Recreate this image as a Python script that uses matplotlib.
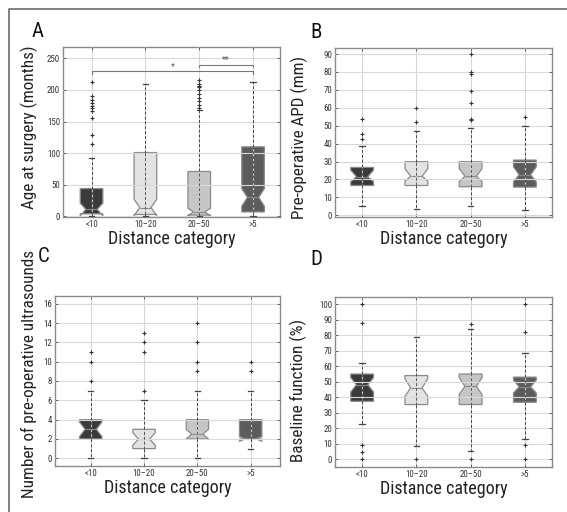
import matplotlib
matplotlib.use("Agg")
import matplotlib.pyplot as plt
from matplotlib.lines import Line2D

plt.rcParams['font.family'] = ['Roboto Condensed', 'Archivo Narrow', 'DejaVu Sans']

W, H = 567, 512
categories = ["<10", "10\u201320", "20\u201350", ">5"]
xlabel = "Distance category"

# ---- Panel A: Age at surgery (months)
a_med = [11, 14, 7, 30]
a_q1 = [4, 3, 2, 7]
a_q3 = [44, 101, 71, 110]
a_cilo = [1, 1, 1, 16]
a_cihi = [21, 27, 13, 44]
a_whislo = [0, 0, 0, 0]
a_whishi = [92, 210, 168, 213]
a_fliers = [[115, 129, 155, 167, 171, 175, 179, 184, 190, 213], [],
            [172, 177, 182, 188, 193, 200, 205, 207, 210, 215], []]

# ---- Panel B: Pre-operative APD (mm)
b_med = [21.5, 21.8, 21.8, 22.6]
b_q1 = [16.6, 16.6, 15.9, 15.7]
b_q3 = [26.7, 29.9, 29.9, 30.8]
b_cilo = [18.7, 19.0, 18.7, 18.7]
b_cihi = [25.2, 26.0, 26.0, 27.0]
b_whislo = [5.2, 3.2, 5.2, 2.8]
b_whishi = [38.8, 47, 48.9, 49.9]
b_fliers = [[42.6, 45.2, 53.8], [52, 59.7],
            [53.2, 53.8, 62.9, 69.6, 79, 80.1, 90], [54.7]]

# ---- Panel C: Number of pre-operative ultrasounds
c_med = [3, 2, 2.5, 2]
c_q1 = [2, 1, 2, 2]
c_q3 = [4, 3, 4, 4]
c_cilo = [2.25, 1.35, 2.0, 1.75]
c_cihi = [3.75, 2.65, 3.0, 2.25]
c_whislo = [0, 0, 0, 1]
c_whishi = [7, 6, 7, 7]
c_fliers = [[8, 10, 11], [7, 11, 12, 13], [9, 10, 12, 14], [9, 10]]

# ---- Panel D: Baseline function (%)
d_med = [48, 46, 47, 46.7]
d_q1 = [37.4, 35.3, 35.3, 36.8]
d_q3 = [55, 54, 55, 53]
d_cilo = [43.4, 40.6, 41.9, 42.8]
d_cihi = [52.7, 52, 52.7, 51]
d_whislo = [23, 8.4, 5.2, 13.3]
d_whishi = [62.4, 79, 84, 68.4]
d_fliers = [[0, 5, 9, 88, 100], [0], [0, 87.3], [0, 9, 82, 100]]

# significance brackets in panel A (from group, to group, height, label)
sig_from = [1, 3]
sig_to = [4, 4]
sig_y = [230, 240]
sig_text = ["*", "**"]

fill_colors = ['#3a3a3a', '#e3e3e3', '#c6c6c6', '#5c5c5c']
edge_color = '#8a8a8a'

fig = plt.figure(figsize=(W / 100, H / 100), dpi=100)
renderer = fig.canvas.get_renderer()


def fit_size(s, target_px, base=10):
    t = fig.text(0, 0, s, fontsize=base)
    w = t.get_window_extent(renderer).width
    t.remove()
    return base * target_px / w


LABEL_FS = fit_size(xlabel, 127)
YLABEL_FS = LABEL_FS * 0.95
TICK_FS = fit_size("250", 13.0)


def px_axes(l, t, r, b):
    return [l / W, 1 - b / H, (r - l) / W, (b - t) / H]


def draw_panel(rect, med, q1, q3, cilo, cihi, whislo, whishi, fliers,
               ylim, yticks, xlim, ylabel, label_xy):
    ax = fig.add_axes(px_axes(*rect))
    pos = list(range(1, len(categories) + 1))
    stats = []
    for i in range(len(categories)):
        stats.append(dict(med=med[i], q1=q1[i], q3=q3[i], cilo=cilo[i],
                          cihi=cihi[i], whislo=whislo[i], whishi=whishi[i],
                          fliers=fliers[i]))
    res = ax.bxp(stats, positions=pos, widths=0.42, shownotches=True,
                 patch_artist=True, capwidths=0.1,
                 boxprops=dict(edgecolor=edge_color, linewidth=0.9),
                 whiskerprops=dict(color='#444444', linewidth=0.7,
                                   linestyle=(0, (3, 2))),
                 capprops=dict(color='#444444', linewidth=0.9),
                 medianprops=dict(color='#8a8a8a', linewidth=0.8),
                 flierprops=dict(marker='+', markersize=3.5,
                                 markeredgecolor='#333333',
                                 markeredgewidth=0.8, linestyle='none'))
    for patch, c in zip(res['boxes'], fill_colors):
        patch.set_facecolor(c)
        patch.set_zorder(2)
    for w in res['whiskers'] + res['caps'] + res['fliers']:
        w.set_zorder(3)
    # dashed line visible through the box
    ax.vlines(pos, q1, q3, colors='#555555', linewidth=0.7,
              linestyles=[(0, (3, 2))], zorder=3)
    ax.set_axisbelow(False)
    ax.grid(True, color='#d8d8d8', linewidth=0.8)
    for gl in ax.get_xgridlines() + ax.get_ygridlines():
        gl.set_zorder(2.5)
    ax.set_xlim(*xlim)
    ax.set_ylim(*ylim)
    ax.set_yticks(yticks)
    ax.set_xticks(pos)
    ax.set_xticklabels(categories)
    ax.tick_params(direction='in', length=2.5, width=0.6, color='#555555',
                   top=True, right=True, labelsize=TICK_FS,
                   labelcolor='#333333', pad=2)
    for s in ax.spines.values():
        s.set_color('#8a8a8a')
        s.set_linewidth(1.0)
    ax.set_xlabel(xlabel, fontsize=LABEL_FS, color='#222222', labelpad=1)
    ax.set_ylabel(ylabel, fontsize=YLABEL_FS, color='#222222')
    ax.yaxis.set_label_coords(*label_xy)
    return ax


axA = draw_panel((63, 47, 280, 217), a_med, a_q1, a_q3, a_cilo, a_cihi,
                 a_whislo, a_whishi, a_fliers, (-1, 268),
                 [0, 50, 100, 150, 200, 250], (0.47, 4.5),
                 "Age at surgery (months)", (-0.117, 0.53))
axB = draw_panel((335, 48, 552, 217), b_med, b_q1, b_q3, b_cilo, b_cihi,
                 b_whislo, b_whishi, b_fliers, (-1, 93.4),
                 list(range(0, 91, 10)), (0.5, 4.5),
                 "Pre-operative APD (mm)", (-0.126, 0.47))
axC = draw_panel((55, 296, 280, 466), c_med, c_q1, c_q3, c_cilo, c_cihi,
                 c_whislo, c_whishi, c_fliers, (-0.8, 16.8),
                 list(range(0, 17, 2)), (0.33, 4.55),
                 "Number of pre-operative ultrasounds", (-0.081, 0.54))
axD = draw_panel((335, 297, 552, 467), d_med, d_q1, d_q3, d_cilo, d_cihi,
                 d_whislo, d_whishi, d_fliers, (-5, 104.7),
                 list(range(0, 101, 10)), (0.5, 4.5),
                 "Baseline function (%)", (-0.129, 0.45))

# significance brackets
for f, t, y, txt in zip(sig_from, sig_to, sig_y, sig_text):
    axA.plot([f, f, t, t], [y - 4, y, y, y - 4], color='#777777',
             linewidth=0.8, zorder=4, clip_on=False)
    axA.text((f + t) / 2, y + 0.5, txt, ha='center', va='bottom',
             fontsize=TICK_FS, color='#555555')

# panel letters
for letter, (x, y) in zip("ABCD", [(32, 37), (310, 38), (38, 262), (310, 265)]):
    fig.text(x / W, 1 - y / H, letter, fontsize=15, color='#111111',
             ha='left', va='baseline')

# outer frame (top and left lines)
fig.add_artist(Line2D([9 / W, 9 / W, 1.0], [0.0, 1 - 9 / H, 1 - 9 / H],
                      transform=fig.transFigure, color='#777777',
                      linewidth=1.3))

fig.savefig("out.png", dpi=100)
